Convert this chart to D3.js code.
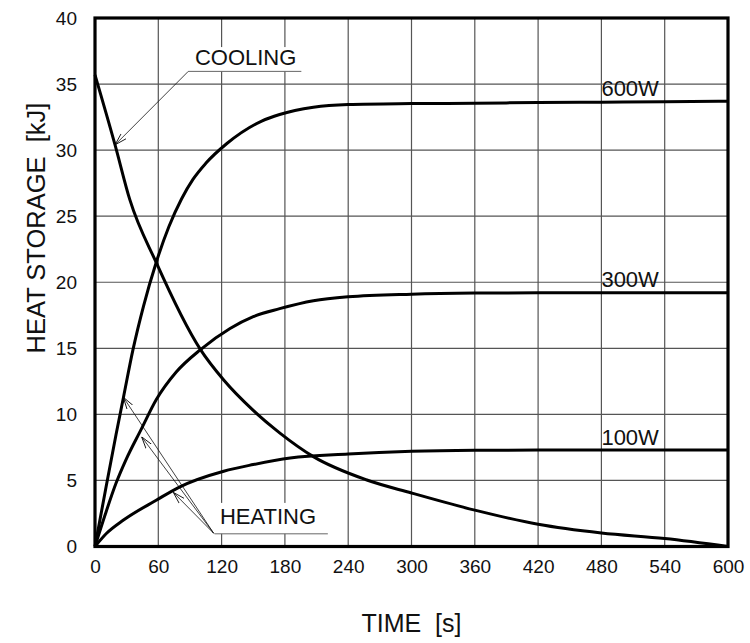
<!DOCTYPE html>
<html>
<head>
<meta charset="utf-8">
<script src="https://cdn.jsdelivr.net/npm/d3@7"></script>
<style>
  html, body { margin: 0; padding: 0; background: #fff; }
  svg { display: block; font-family: "Liberation Sans", Arial, sans-serif; }
</style>
</head>
<body>
<div id="chart"></div>
<script>
// Time axis ticks [s] and heat storage ticks [kJ]
const X_TICKS = [0, 60, 120, 180, 240, 300, 360, 420, 480, 540, 600];
const Y_TICKS = [0, 5, 10, 15, 20, 25, 30, 35, 40];

// Heating curves (time in s, heat storage in kJ)
const T_600W = [0, 10, 20, 27, 36, 46, 58, 70, 82, 93, 105, 125, 158, 175, 207, 240, 300, 360, 420, 480, 540, 600];
const V_600W = [0, 4.3, 8.5, 11.3, 14.9, 18.2, 21.5, 24.2, 26.3, 27.8, 29.0, 30.5, 32.2, 32.7, 33.25, 33.45, 33.52, 33.55, 33.6, 33.63, 33.66, 33.7];

const T_300W = [0, 10, 20, 29, 44, 58, 77, 100, 128, 150, 175, 207, 240, 300, 360, 420, 480, 540, 600];
const V_300W = [0, 2.5, 4.8, 6.5, 8.9, 11.1, 13.2, 14.9, 16.5, 17.4, 18.0, 18.6, 18.9, 19.1, 19.18, 19.2, 19.2, 19.2, 19.2];

const T_100W = [0, 11, 27, 58, 80, 122, 150, 185, 240, 300, 360, 420, 480, 540, 600];
const V_100W = [0, 1.0, 2.0, 3.5, 4.5, 5.7, 6.2, 6.7, 7.0, 7.2, 7.28, 7.3, 7.3, 7.3, 7.3];

// Cooling curve
const T_COOL = [0, 19, 33, 58, 100, 122, 150, 175, 207, 257, 300, 360, 420, 480, 540, 600];
const V_COOL = [35.7, 30.4, 26.25, 21.5, 14.9, 12.6, 10.3, 8.6, 6.8, 5.05, 4.05, 2.75, 1.68, 1.02, 0.6, 0];

const SERIES_LABELS = ['600W', '300W', '100W'];
const SERIES_END = [33.7, 19.2, 7.3];

(function() {
  const W = 750, H = 643;
  const margin = { left: 95, top: 18, right: 22, bottom: 96.5 };
  const iw = W - margin.left - margin.right;
  const ih = H - margin.top - margin.bottom;

  const x = d3.scaleLinear().domain([0, 600]).range([0, iw]);
  const y = d3.scaleLinear().domain([0, 40]).range([ih, 0]);

  const svg = d3.select('#chart').append('svg')
    .attr('width', W).attr('height', H);

  const defs = svg.append('defs');
  defs.append('marker')
    .attr('id', 'open-arrow')
    .attr('viewBox', '0 0 12 10')
    .attr('refX', 12).attr('refY', 5)
    .attr('markerWidth', 12).attr('markerHeight', 10)
    .attr('markerUnits', 'userSpaceOnUse')
    .attr('orient', 'auto')
    .append('path')
    .attr('d', 'M0,1.5 L12,5 L0,8.5')
    .attr('fill', 'none')
    .attr('stroke', '#111')
    .attr('stroke-width', 0.9);

  const g = svg.append('g').attr('transform', `translate(${margin.left},${margin.top})`);

  // grid
  g.append('g').selectAll('line').data(X_TICKS.slice(1, -1)).join('line')
    .attr('x1', d => x(d)).attr('x2', d => x(d))
    .attr('y1', 0).attr('y2', ih)
    .attr('stroke', '#555').attr('stroke-width', 1.2);
  g.append('g').selectAll('line').data(Y_TICKS.slice(1, -1)).join('line')
    .attr('x1', 0).attr('x2', iw)
    .attr('y1', d => y(d)).attr('y2', d => y(d))
    .attr('stroke', '#555').attr('stroke-width', 1.2);

  // tick labels via axes (no tick lines)
  const xAxis = g.append('g').attr('transform', `translate(0,${ih})`)
    .call(d3.axisBottom(x).tickValues(X_TICKS).tickSize(0).tickPadding(13));
  const yAxis = g.append('g')
    .call(d3.axisLeft(y).tickValues(Y_TICKS).tickSize(0).tickPadding(18));
  [xAxis, yAxis].forEach(a => {
    a.select('.domain').remove();
    a.selectAll('text')
      .attr('font-size', 19)
      .attr('font-family', '"Liberation Sans", Arial, sans-serif')
      .attr('fill', '#111');
  });

  const line = d3.line()
    .x(d => x(d[0])).y(d => y(d[1]))
    .curve(d3.curveMonotoneX);

  const curves = [
    d3.zip(T_600W, V_600W),
    d3.zip(T_300W, V_300W),
    d3.zip(T_100W, V_100W),
    d3.zip(T_COOL, V_COOL)
  ];

  // annotations: COOLING
  const cool = g.append('g');
  cool.append('rect')
    .attr('x', x(88.4)).attr('y', y(37.8))
    .attr('width', x(195.6) - x(88.4)).attr('height', y(35.96) - y(37.8))
    .attr('fill', '#fff');
  cool.append('text')
    .attr('x', x(94.7)).attr('y', y(36.46))
    .attr('font-size', 22).attr('fill', '#111')
    .text('COOLING');
  cool.append('line')
    .attr('x1', x(88.4)).attr('x2', x(195.6))
    .attr('y1', y(35.96)).attr('y2', y(35.96))
    .attr('stroke', '#666').attr('stroke-width', 1);
  cool.append('line')
    .attr('x1', x(88.4)).attr('y1', y(35.96))
    .attr('x2', x(19)).attr('y2', y(30.4))
    .attr('stroke', '#111').attr('stroke-width', 0.8)
    .attr('marker-end', 'url(#open-arrow)');

  // annotations: HEATING
  const heat = g.append('g');
  heat.append('rect')
    .attr('x', x(113.3)).attr('y', y(3.3))
    .attr('width', x(220.7) - x(113.3)).attr('height', y(0.96) - y(3.3))
    .attr('fill', '#fff');
  heat.append('text')
    .attr('x', x(118.4)).attr('y', y(1.72))
    .attr('font-size', 22).attr('fill', '#111')
    .text('HEATING');
  heat.append('line')
    .attr('x1', x(113.3)).attr('x2', x(220.7))
    .attr('y1', y(0.96)).attr('y2', y(0.96))
    .attr('stroke', '#666').attr('stroke-width', 1);
  const HEAT_TIPS = [[26.8, 11.3], [44.2, 8.3], [74.2, 4.1]];
  heat.selectAll('line.arrow').data(HEAT_TIPS).join('line')
    .attr('class', 'arrow')
    .attr('x1', x(112.5)).attr('y1', y(1.0))
    .attr('x2', d => x(d[0])).attr('y2', d => y(d[1]))
    .attr('stroke', '#111').attr('stroke-width', 0.8)
    .attr('marker-end', 'url(#open-arrow)');

  // curves
  g.append('g').selectAll('path').data(curves).join('path')
    .attr('d', line)
    .attr('fill', 'none')
    .attr('stroke', '#000')
    .attr('stroke-width', 3)
    .attr('stroke-linejoin', 'round');

  // series labels
  g.append('g').selectAll('text').data(SERIES_LABELS).join('text')
    .attr('x', x(480))
    .attr('y', (d, i) => y(SERIES_END[i]) - 5.5)
    .attr('font-size', 22).attr('fill', '#111')
    .text(d => d);

  // frame
  g.append('rect')
    .attr('x', 0).attr('y', 0).attr('width', iw).attr('height', ih)
    .attr('fill', 'none').attr('stroke', '#000').attr('stroke-width', 3.2);

  // axis titles
  svg.append('text')
    .attr('x', margin.left + iw / 2).attr('y', 632)
    .attr('text-anchor', 'middle')
    .attr('font-size', 25).attr('fill', '#111')
    .attr('xml:space', 'preserve')
    .text('TIME  [s]');
  svg.append('text')
    .attr('transform', 'translate(45,228) rotate(-90)')
    .attr('text-anchor', 'middle')
    .attr('font-size', 25.5).attr('fill', '#111')
    .attr('xml:space', 'preserve')
    .text('HEAT STORAGE  [kJ]');
})();
</script>
</body>
</html>
